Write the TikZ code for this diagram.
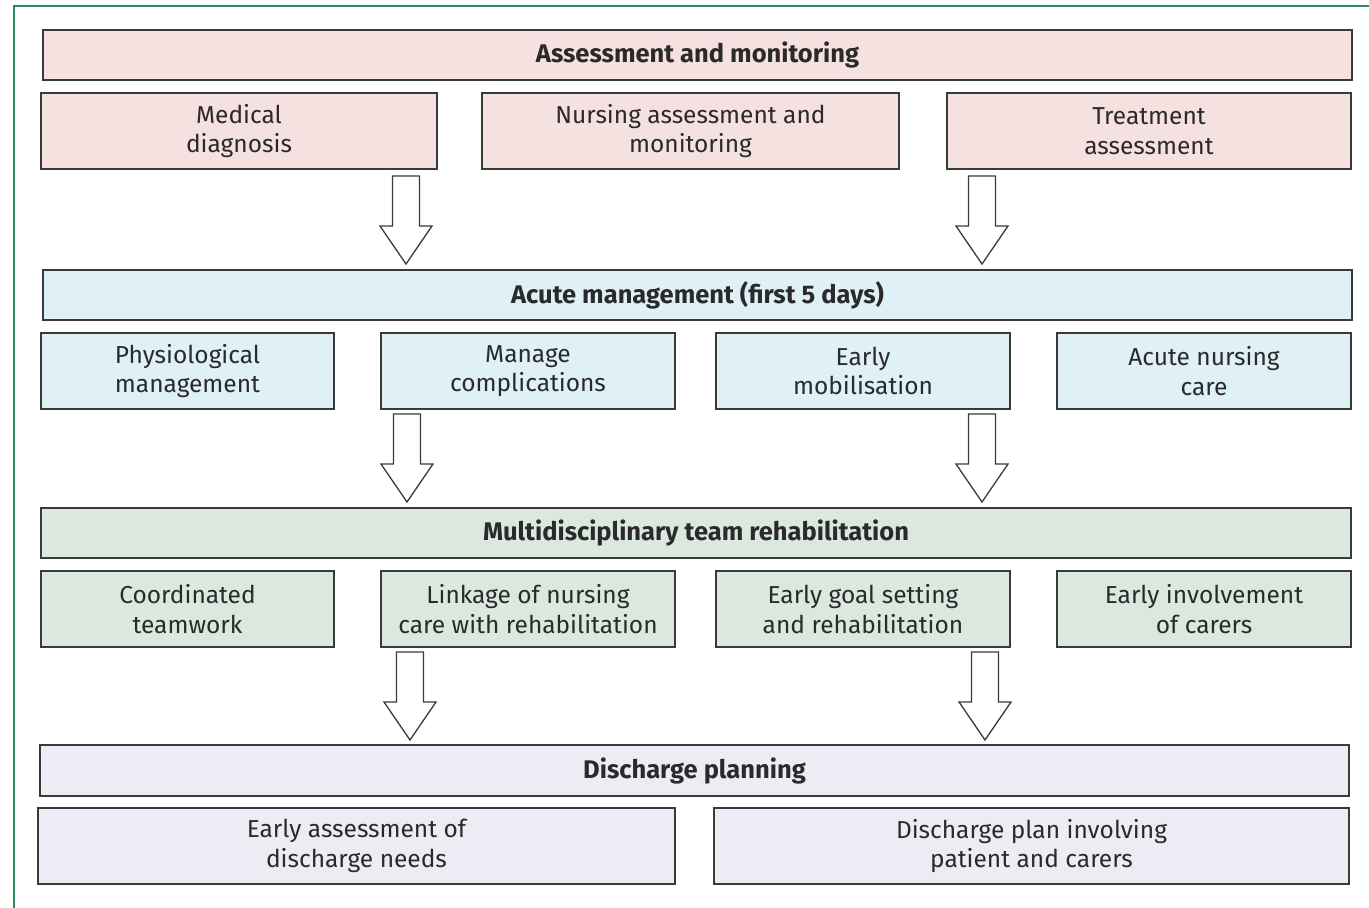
\documentclass[tikz,border=0pt]{standalone}
\usepackage{fontspec}
\setmainfont{Fira Sans}
\definecolor{frameg}{HTML}{2E8B5A}
\definecolor{pinkf}{HTML}{F5E1E0}
\definecolor{bluef}{HTML}{DFF0F7}
\definecolor{greenf}{HTML}{DBE8E0}
\definecolor{lavf}{HTML}{EEEBF4}
\definecolor{edge}{HTML}{3A3A3A}
\definecolor{txt}{HTML}{2A2A2A}
\tikzset{
  box/.style={draw=edge, line width=1.6pt, rectangle, inner sep=0pt, align=center,
    text=txt, font=\fontsize{24.5}{29.5}\selectfont},
  hdr/.style={box, font=\fontsize{25.5}{29}\selectfont\bfseries},
  barrow/.pic={\draw[edge, line width=1.3pt, fill=white, line join=miter]
    (-13.5,0) -- (13.5,0) -- (13.5,50) -- (26,50) -- (0,88) -- (-26,50) -- (-13.5,50) -- cycle;}
}
\begin{document}
\begin{tikzpicture}[x=1pt,y=-1pt]
\useasboundingbox (0,0) rectangle (1369,908);
\draw[frameg, line width=2pt] (14,908) -- (14,6) -- (1369,6);
% row 1
\node[hdr, fill=pinkf, minimum width=1309, minimum height=50] (h1) at (697.5,55) {Assessment and monitoring};
\node[box, fill=pinkf, minimum width=396, minimum height=76] (s11) at (239,131) {Medical\\diagnosis};
\node[box, fill=pinkf, minimum width=417, minimum height=76] (s12) at (690.5,131) {Nursing assessment and\\monitoring};
\node[box, fill=pinkf, minimum width=404, minimum height=76] (s13) at (1149,131) {Treatment\\assessment};
% row 2
\node[hdr, fill=bluef, minimum width=1309, minimum height=50] (h2) at (697.5,295) {Acute management (first 5 days)};
\node[box, fill=bluef, minimum width=293, minimum height=76] (s21) at (187.5,371) {Physiological\\management};
\node[box, fill=bluef, minimum width=294, minimum height=76] (s22) at (528,371) {Manage\\complications};
\node[box, fill=bluef, minimum width=294, minimum height=76] (s23) at (863,371) {Early\\mobilisation};
\node[box, fill=bluef, minimum width=294, minimum height=76] (s24) at (1204,371) {Acute nursing\\care};
% row 3
\node[hdr, fill=greenf, minimum width=1310, minimum height=50] (h3) at (696,533) {Multidisciplinary team rehabilitation};
\node[box, fill=greenf, minimum width=293, minimum height=76] (s31) at (187.5,609) {Coordinated\\teamwork};
\node[box, fill=greenf, minimum width=294, minimum height=76] (s32) at (528,609) {Linkage of nursing\\care with rehabilitation};
\node[box, fill=greenf, minimum width=294, minimum height=76] (s33) at (863,609) {Early goal setting\\and rehabilitation};
\node[box, fill=greenf, minimum width=294, minimum height=76] (s34) at (1204,609) {Early involvement\\of carers};
% row 4
\node[hdr, fill=lavf, minimum width=1309, minimum height=51] (h4) at (694.5,770.5) {Discharge planning};
\node[box, fill=lavf, minimum width=637, minimum height=76] (s41) at (356.5,846) {Early assessment of\\discharge needs};
\node[box, fill=lavf, minimum width=635, minimum height=76] (s42) at (1031.5,846) {Discharge plan involving\\patient and carers};
% arrows
\pic at (406,176) {barrow};
\pic at (982,176) {barrow};
\pic at (407,414) {barrow};
\pic at (982,414) {barrow};
\pic at (410,652) {barrow};
\pic at (985,652) {barrow};
\end{tikzpicture}
\end{document}
